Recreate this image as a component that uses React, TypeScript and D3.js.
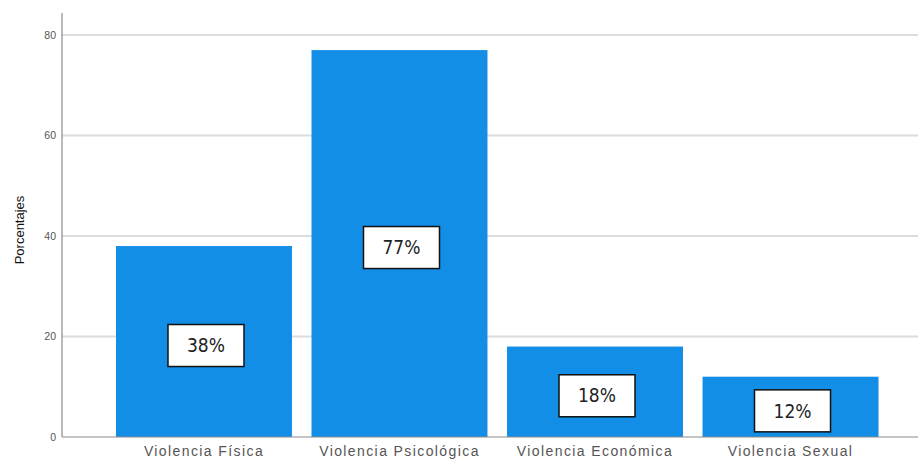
import React from "react";
import * as d3 from "d3";

const categories = ["Violencia Física", "Violencia Psicológica", "Violencia Económica", "Violencia Sexual"];
const values = [38, 77, 18, 12];
const labels = ["38%", "77%", "18%", "12%"];
const yTicks = [0, 20, 40, 60, 80];

export default function App() {
  const W = 918, H = 459;
  const y = d3.scaleLinear().domain([0, 80]).range([437, 35]);
  const x = d3.scaleBand<string>().domain(categories).range([116, 878.5]).paddingInner(0.1).paddingOuter(0);
  const axisX = 62;
  const top = y(84.4);
  return (
    <svg width={W} height={H} style={{ position: "absolute", left: 0, top: 0, background: "#fff" }}>
      {yTicks.filter(t => t > 0).map(t => (
        <line key={t} x1={axisX} x2={W} y1={y(t)} y2={y(t)} stroke="#dcdcdc" strokeWidth={2} />
      ))}
      {categories.map((c, i) => (
        <rect key={c} x={x(c)} y={y(values[i])} width={x.bandwidth()} height={y(0) - y(values[i])} fill="#128ee6" />
      ))}
      <line x1={axisX} x2={axisX} y1={top} y2={y(0)} stroke="#8a8a8a" strokeWidth={1.2} />
      <line x1={axisX} x2={W} y1={y(0)} y2={y(0)} stroke="#8a8a8a" strokeWidth={1.2} />
      {yTicks.map(t => (
        <text key={t} x={56} y={y(t)} dy="0.35em" textAnchor="end" fontFamily="Liberation Sans, Arial, sans-serif" fontSize={10.5} fill="#555">{t}</text>
      ))}
      <text transform={`translate(19,${y(40) - 6}) rotate(-90)`} textAnchor="middle" fontFamily="Liberation Sans Narrow, Liberation Sans, Arial, sans-serif" fontSize={13} fill="#111" dy="0.35em">Porcentajes</text>
      {categories.map(c => (
        <text key={c} x={(x(c) as number) + x.bandwidth() / 2} y={456} textAnchor="middle" fontFamily="Liberation Sans, Arial, sans-serif" fontSize={14} letterSpacing={1.4} fill="#555">{c}</text>
      ))}
      {categories.map((c, i) => {
        const cx = (x(c) as number) + x.bandwidth() / 2 + 2;
        const cy = (y(values[i]) + y(0)) / 2 + 4;
        return (
          <g key={c + "l"}>
            <rect x={cx - 38} y={cy - 21} width={76} height={42} fill="#fff" stroke="#111" strokeWidth={1.5} />
            <text x={cx} y={cy} dy="0.35em" textAnchor="middle" fontFamily="DejaVu Sans Condensed, Open Sans, sans-serif" fontSize={19} fill="#222">{labels[i]}</text>
          </g>
        );
      })}
    </svg>
  );
}
